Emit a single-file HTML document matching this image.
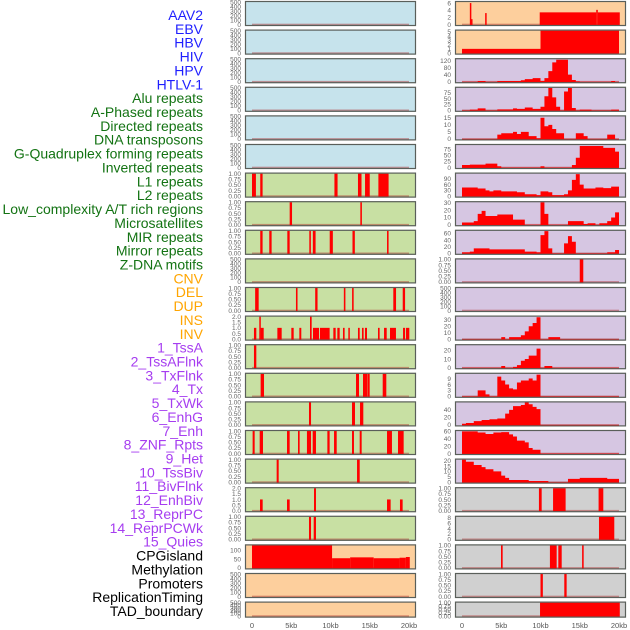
<!DOCTYPE html>
<html><head><meta charset="utf-8">
<style>
html,body{margin:0;padding:0;background:#fff;}
svg{display:block;font-family:"Liberation Sans",sans-serif;}
</style></head>
<body>
<svg id="chart" width="630" height="630" viewBox="0 0 630 630" xmlns="http://www.w3.org/2000/svg">
<g id="labels"></g>
<g id="panels"></g>
<g id="xaxes"></g>
</svg>
<script>
// ---- labels ----
const trackLabels = ["AAV2","EBV","HBV","HIV","HPV","HTLV-1","Alu repeats","A-Phased repeats","Directed repeats","DNA transposons","G-Quadruplex forming repeats","Inverted repeats","L1 repeats","L2 repeats","Low_complexity A/T rich regions","Microsatellites","MIR repeats","Mirror repeats","Z-DNA motifs","CNV","DEL","DUP","INS","INV","1_TssA","2_TssAFlnk","3_TxFlnk","4_Tx","5_TxWk","6_EnhG","7_Enh","8_ZNF_Rpts","9_Het","10_TssBiv","11_BivFlnk","12_EnhBiv","13_ReprPC","14_ReprPCWk","15_Quies","CPGisland","Methylation","Promoters","ReplicationTiming","TAD_boundary"];
const labelGroups = ["v","v","v","v","v","v","r","r","r","r","r","r","r","r","r","r","r","r","r","s","s","s","s","s","c","c","c","c","c","c","c","c","c","c","c","c","c","c","c","o","o","o","o","o"];
const xTickValues = [0,5,10,15,20];
const xTickLabels = ["0","5kb","10kb","15kb","20kb"];

// ---- binary interval tracks (start kb, end kb, value) ----
const L6 = [[0,0.5,1],[1.05,1.35,1],[10.5,10.9,1],[13.5,13.95,1],[14.4,15.0,1],[16.1,17.4,1]];
const L7 = [[4.8,5.1,1],[13.8,14.0,1]];
const L8 = [[1.05,1.35,1],[2.2,2.5,1],[4.5,4.8,1],[7.3,7.5,1],[7.75,8.1,1],[9.9,10.3,1],[12.8,13.1,1],[17.2,17.4,1]];
const L10 = [[0.4,0.85,1],[5.6,5.8,1],[8.05,8.35,1],[11.7,11.9,1],[12.75,12.95,1],[18.0,18.35,1],[19.2,19.5,1]];
const L11 = [[0.25,0.55,1],[0.93,1.1,2],[1.1,1.49,1],[3.23,3.78,1],[5.01,5.31,1],[6.03,6.28,1],[7.39,7.6,2],[7.77,8.54,1],[8.66,9.89,1],[10.36,10.66,1],[10.87,11.17,1],[11.59,11.8,1],[12.27,12.44,1],[13.5,13.72,1],[14.01,14.22,1],[14.39,14.65,1],[16.05,16.26,1],[16.82,17.16,1],[17.58,18.34,1],[19.24,19.5,1],[19.62,20.04,1]];
const L12 = [[0.25,0.55,1]];
const L13 = [[1.1,1.53,1],[13.25,13.63,1],[14.14,14.65,1],[14.69,14.99,1],[16.65,17.11,1]];
const L14 = [[7.26,7.52,1],[12.74,13.12,1],[13.76,14.18,1]];
const L15 = [[0.08,0.34,1],[0.98,1.4,1],[4.46,4.8,1],[5.86,6.07,1],[7.0,7.52,1],[7.73,8.15,1],[9.6,9.89,1],[10.45,10.79,1],[12.74,12.99,1],[13.72,13.97,1],[17.2,17.83,1],[18.6,19.32,1]];
const L16 = [[3.14,3.4,1],[13.38,13.72,1]];
const L17 = [[1.02,1.36,1],[4.46,4.8,1],[7.9,8.15,2],[17.2,17.66,1],[18.85,19.19,1]];
const L18 = [[7.26,7.52,1],[7.86,8.15,1]];
const L19 = [[0,10.2,130],[10.2,12.5,55],[12.5,15.5,60],[15.5,18.8,55],[18.8,19.6,58],[19.6,20.1,62]];
const R0 = [[1.0,1.15,6],[1.15,1.3,1.5],[2.95,3.1,3.2],[9.9,17.1,3.4],[17.1,17.3,4.1],[17.3,20.1,3.4]];
const R1 = [[0,10,1],[10,20,5.3]];
const R9 = [[15.0,15.45,1]];
const R17 = [[9.8,10.15,1],[11.6,13.2,1],[17.4,18.0,1]];
const R18 = [[17.45,19.4,8.3]];
const R19 = [[4.97,5.18,1],[11.2,12.06,1],[12.27,12.7,1],[15.3,15.5,1]];
const R20 = [[10.0,10.3,1],[13.03,13.33,1]];
const R21 = [[9.94,20.1,1]];

// ---- profile tracks, 40 bins of 0.5 kb ----
const R2 = [0,0,0,0,4,4,0,0,0,4,4,4,4,4,4,8,15,15,20,20,5,20,60,110,125,125,125,40,10,2,0,0,0,0,0,0,0,0,4,0];
const R3 = [0,0,3,3,8,8,0,0,0,4,4,4,4,8,6,6,12,12,6,6,15,60,95,55,15,0,80,95,10,0,3,3,3,0,0,0,0,0,3,3];
const R4 = [0,0,0,0,0,0,0,0,0,3,4,4,4,5,3.5,5,5,2,2,0.5,15,9,10,7,4,4,0,0,0,4,4,2,0,0,0,0,0,3,3,0];
const R5 = [10,10,12,12,12,12,16,16,16,5,0,0,0,0,0,0,0,0,0,0,5,0,0,0,0,0,0,0,10,40,88,88,88,88,88,88,80,80,80,65];
const R6 = [45,45,45,45,40,40,30,25,30,30,25,25,25,25,20,20,10,10,10,5,25,25,20,5,5,5,10,30,85,115,60,40,40,40,45,45,42,42,50,50];
const R7 = [3,3,3,5,15,19,12,12,12,14,14,14,14,7,7,7,0,0,0,0,31,15,0,0,0,0,0,5,5,5,5,1,2,2,0,2,2,5,10,17];
const R8 = [3,3,5,15,15,15,15,12,12,12,12,12,12,12,12,12,5,5,5,3,55,67,15,0,0,0,30,52,35,0,0,0,0,0,0,0,0,3,3,10];
const R11 = [0,0,0,0,0,0,0,0,0,0,3,0,3,3,3,6,12,20,25,34,0,0,3,3,3,0,0,0,0,0,0,0,0,0,0,0,0,0,0,0];
const R12 = [0,0,0,0,0,0,0,0,0,0,2,0,0,1,3,8,10,14,14,22,0,2,2,0,0,0,0,0,0,0,0,0,0,0,0,0,0,0,0,0];
const R13 = [0,0,0,0,3,3,1,0,0,10,8,6,4,3.5,7,8,8,9,8,11,0,0,0,0,0,0,0,0,0,0,0,0,0,0,0,0,0,0,0,0];
const R14 = [3,5,5,10,10,13,13,15,15,17,17,30,40,50,50,53,60,55,48,42,0,0,0,0,0,0,0,0,0,0,0,0,0,0,0,0,0,0,0,0];
const R15 = [60,60,60,60,57,57,53,53,57,57,58,58,52,46,35,35,30,15,10,10,0,0,0,0,0,0,0,0,0,0,0,0,0,0,0,0,0,0,0,0];
const R16 = [21,19,19,16,16,14,12,12,10,10,6,4,2,2,2,2,2,1,1,1,1,1,0,0,0,0,0,3,3,3,4,4,4,4,4,4,4,3,3,3];

// ---- y tick sets ----
const ticks500 = [0,100,200,300,400,500];
const ticks01 = [0,0.25,0.5,0.75,1];
const ticks02 = [0,0.5,1,1.5,2];

const BLUE="#c6e3ec", GREEN="#c8e0a3", PEACH="#fdcf9d", PURPLE="#d6c6e2", GREY="#d0d0d0";
// panel specs: [col,row,bg,ticks,ymax,kind,data,decimals]
const panels = [
 [0,0,BLUE,ticks500,500,"e",null,0],[0,1,BLUE,ticks500,500,"e",null,0],[0,2,BLUE,ticks500,500,"e",null,0],
 [0,3,BLUE,ticks500,500,"e",null,0],[0,4,BLUE,ticks500,500,"e",null,0],[0,5,BLUE,ticks500,500,"e",null,0],
 [0,6,GREEN,ticks01,1,"i",L6,2],[0,7,GREEN,ticks01,1,"i",L7,2],[0,8,GREEN,ticks01,1,"i",L8,2],
 [0,9,GREEN,ticks500,500,"e",null,0],[0,10,GREEN,ticks01,1,"i",L10,2],[0,11,GREEN,ticks02,2,"i",L11,1],
 [0,12,GREEN,ticks01,1,"i",L12,2],[0,13,GREEN,ticks01,1,"i",L13,2],[0,14,GREEN,ticks01,1,"i",L14,2],
 [0,15,GREEN,ticks01,1,"i",L15,2],[0,16,GREEN,ticks01,1,"i",L16,2],[0,17,GREEN,ticks02,2,"i",L17,1],
 [0,18,GREEN,ticks01,1,"i",L18,2],[0,19,PEACH,[0,50,100],128,"i",L19,0],[0,20,PEACH,ticks500,500,"e",null,0],
 [0,21,PEACH,ticks500,500,"e",null,0],
 [1,0,PEACH,[0,2,4,6],6.3,"i",R0,0],[1,1,PEACH,[0,1,2,3,4,5],5.3,"i",R1,0],
 [1,2,PURPLE,[0,40,80,120],128,"p",R2,0],[1,3,PURPLE,[0,25,50,75],96,"p",R3,0],
 [1,4,PURPLE,[0,5,10,15],16,"p",R4,0],[1,5,PURPLE,[0,25,50,75],92,"p",R5,0],
 [1,6,PURPLE,[0,30,60,90],118,"p",R6,0],[1,7,PURPLE,[0,10,20,30],31,"p",R7,0],
 [1,8,PURPLE,[0,20,40,60],68,"p",R8,0],[1,9,PURPLE,ticks01,1,"i",R9,2],
 [1,10,PURPLE,ticks500,500,"e",null,0],[1,11,PURPLE,[0,10,20,30],35,"p",R11,0],
 [1,12,PURPLE,[0,10,20],26,"p",R12,0],[1,13,PURPLE,[0,3,6,9],11.4,"p",R13,0],
 [1,14,PURPLE,[0,20,40],60,"p",R14,0],[1,15,PURPLE,[0,20,40,60],61,"p",R15,0],
 [1,16,PURPLE,[0,5,10,15,20],21,"p",R16,0],[1,17,GREY,ticks01,1,"i",R17,2],
 [1,18,GREY,[0,2,4,6,8],8.3,"i",R18,0],[1,19,GREY,ticks01,1,"i",R19,2],
 [1,20,GREY,ticks01,1,"i",R20,2],[1,21,GREY,ticks01,1,"i",R21,2]
];

const NS="http://www.w3.org/2000/svg";
function mk(tag,attrs,parent){const e=document.createElementNS(NS,tag);for(const k in attrs)e.setAttribute(k,attrs[k]);parent.appendChild(e);return e;}
const colColors={v:"#1f1fff",r:"#137313",s:"#ffa500",c:"#a63df0",o:"#000"};
const labelsG=document.getElementById("labels");
trackLabels.forEach((t,i)=>{
  const e=mk("text",{x:203,y:15+i*13.86+5,"text-anchor":"end","font-size":"14",fill:colColors[labelGroups[i]]},labelsG);
  
  
  e.textContent=t;
});
function xScale(col,kb){return (col===0?252:462)+kb*7.85;}
const panelsG=document.getElementById("panels");
panels.forEach(p=>{
  const [col,row,bg,ticks,ymax,kind,data,dec]=p;
  const left=col===0?245:455, w=171;
  const top=1+row*28.6, h=row===21?16:25;
  const y0=top+h-1.5, y1=top+1;
  const yS=v=>y0-(v/ymax)*(y0-y1);
  const g=mk("g",{},panelsG);
  
  
  mk("rect",{x:left,y:top,width:w,height:h,fill:bg},g);
  mk("rect",{x:xScale(col,0),y:y0-0.8,width:xScale(col,20)-xScale(col,0),height:1.6,fill:"rgba(170,40,40,0.45)"},g);
  if(kind==="i"){
    data.forEach(d=>{
      const r=mk("rect",{x:xScale(col,d[0]),y:yS(d[2]),width:Math.max(1.5,xScale(col,d[1])-xScale(col,d[0])),height:y0-yS(d[2])+1,fill:"#ff0000"},g);
      
      
    });
  } else if(kind==="p"){
    let dpath="M"+xScale(col,0)+","+(y0+1);
    data.forEach((v,i)=>{
      const xa=xScale(col,i*0.5), xb=xScale(col,(i+1)*0.5);
      dpath+=" L"+xa+","+yS(v)+" L"+xb+","+yS(v);
    });
    dpath+=" L"+xScale(col,20)+","+(y0+1)+" Z";
    const a=mk("path",{d:dpath,fill:"#ff0000"},g);
    
    
  }
  mk("rect",{x:left+0.5,y:top+0.5,width:w-1,height:h-1,fill:"none",stroke:"#5a5f5a","stroke-width":1.2},g);
  ticks.forEach(t=>{
    const tx=mk("text",{x:left-4,y:yS(t)+2.3,"text-anchor":"end","font-size":"6.5",fill:"#666"},g);
    
    
    tx.textContent=t.toFixed(dec);
  });
});
const xaG=document.getElementById("xaxes");
[0,1].forEach(col=>{
  xTickValues.forEach((v,i)=>{
    const t=mk("text",{x:xScale(col,v),y:628,"text-anchor":"middle","font-size":"7.5",fill:"#555"},xaG);
    
    
    t.textContent=xTickLabels[i];
  });
});
</script>
</body></html>
